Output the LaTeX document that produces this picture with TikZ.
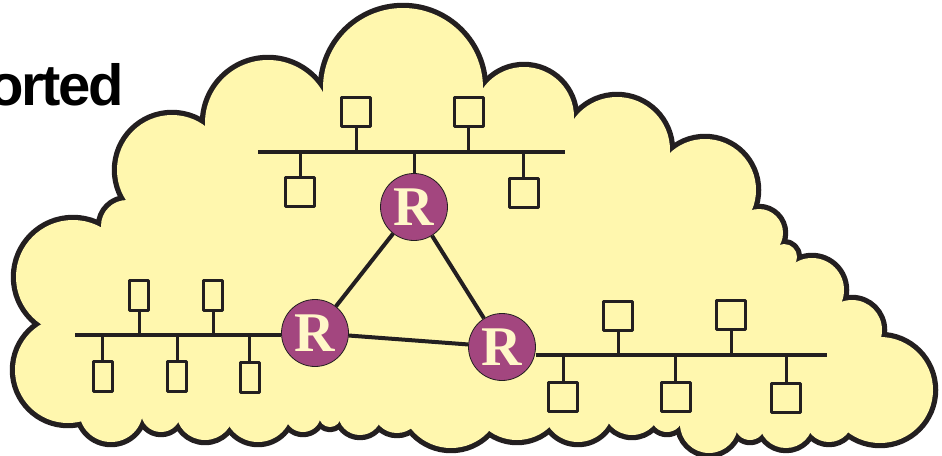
\documentclass[tikz,border=0pt]{standalone}
\usepackage{fontspec}
\setmainfont{Liberation Serif}
\newfontfamily\titlefont{Liberation Sans}[LetterSpace=-4]
\usepackage{xcolor}
\usepackage{tikz}
\usetikzlibrary{positioning}

\definecolor{ink}{HTML}{231F20}
\definecolor{cloudfill}{HTML}{FFF7AE}
\definecolor{routerfill}{HTML}{A3467F}
\definecolor{routertext}{HTML}{FFF7C8}

% bumps of the cloud: centre x / centre y / radius
\newcommand{\cloudbumps}{403/88/80, 524/117/50, 617/150/53, 705/190/51, 759/233/24,
  784/257/13, 812/290/32, 852/330/30, 880/390/53, 829/418/24, 786/421/27,
  750/425/15, 709/424/29, 667/416/16, 632/406/29, 578/407/35, 517/393/47,
  451/397/51, 397/409/24, 360/413/22, 330/416/11, 303/414/18, 258/408/34,
  205/411/29, 161/412/20, 111/410/32, 68/370/53, 73/277/57, 127/226/26,
  172/170/55, 268/123/63}

\begin{document}
\begin{tikzpicture}[x=1pt, y=-1pt, line join=round]
    \tikzset{
        router/.style={circle, draw=ink, line width=0.8pt, fill=routerfill, minimum size=67pt, inner sep=0pt, text=routertext, font=\bfseries\fontsize{56}{56}\selectfont},
        host/.style={rectangle, draw=ink, line width=3pt, fill=cloudfill, minimum width=29pt, minimum height=29pt, inner sep=0pt},
        slimhost/.style={host, minimum width=19pt, minimum height=30pt},
        bus/.style={draw=ink, line width=3.5pt},
        stub/.style={draw=ink, line width=3pt},
        link/.style={draw=ink, line width=4pt}
    }
    \useasboundingbox (0,0) rectangle (942,455);

    \node (Title) [anchor=base east, inner sep=0pt, font=\titlefont\bfseries\fontsize{58}{60}\selectfont] at (124,105) {orted};

    % cloud
    \foreach \cx/\cy/\r in \cloudbumps
        \draw[ink, line width=10.5pt] (\cx,\cy) circle[radius=\r];
    \foreach \cx/\cy/\r in \cloudbumps
        \fill[cloudfill] (\cx,\cy) circle[radius=\r];
    \fill[cloudfill] (268,123) \foreach \cx/\cy/\r in \cloudbumps {-- (\cx,\cy)} -- cycle;

    \node (R1) [router] at (414,207) {R};
    \node (R2) [router] at (315,333) {R};
    \node (R3) [router] at (502,347) {R};

    \coordinate (TopW) at (258,152);
    \coordinate (TopE) at (565,152);
    \coordinate (LeftW) at (75,335);
    \coordinate (RightE) at (827,355);

    \path [bus] (TopW) -- (TopE);
    \path [bus] (LeftW) -- (LeftW -| R2.west);
    \path [bus] (RightE -| R3.east) -- (RightE);
    \path [stub] (R1) -- (R1 |- TopW);

    \node (T1) [host] at (356,111.5) {};
    \node (T2) [host] at (468.5,111.5) {};
    \node (T3) [host] at (300,192) {};
    \node (T4) [host] at (523.5,192.5) {};

    \node (L1) [slimhost] at (139,295.5) {};
    \node (L2) [slimhost] at (213,295) {};
    \node (L3) [slimhost] at (102.5,376.5) {};
    \node (L4) [slimhost] at (177,376.5) {};
    \node (L5) [slimhost] at (249.5,377.5) {};

    \node (S1) [host] at (618,315.5) {};
    \node (S2) [host] at (731,315) {};
    \node (S3) [host] at (563,397) {};
    \node (S4) [host] at (675.5,397) {};
    \node (S5) [host] at (786,398) {};

    \path [stub] (T1) -- (T1 |- TopW);
    \path [stub] (T2) -- (T2 |- TopW);
    \path [stub] (T3) -- (T3 |- TopW);
    \path [stub] (T4) -- (T4 |- TopW);

    \path [stub] (L1) -- (L1 |- LeftW);
    \path [stub] (L2) -- (L2 |- LeftW);
    \path [stub] (L3) -- (L3 |- LeftW);
    \path [stub] (L4) -- (L4 |- LeftW);
    \path [stub] (L5) -- (L5 |- LeftW);

    \path [stub] (S1) -- (S1 |- RightE);
    \path [stub] (S2) -- (S2 |- RightE);
    \path [stub] (S3) -- (S3 |- RightE);
    \path [stub] (S4) -- (S4 |- RightE);
    \path [stub] (S5) -- (S5 |- RightE);

    \path [link] (R1) -- (R2);
    \path [link] (R1) -- (R3);
    \path [link] (R2) -- (R3);

\end{tikzpicture}
\end{document}
